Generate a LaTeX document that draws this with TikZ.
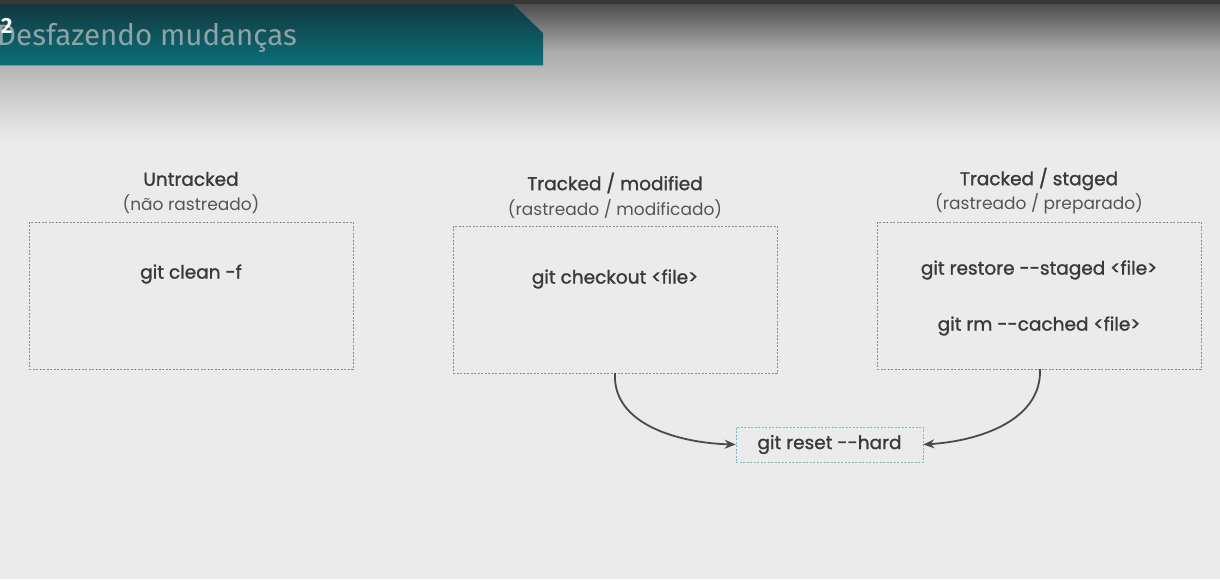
\documentclass[tikz,border=0pt]{standalone}
\usepackage{fontspec}
\setmainfont{Poppins}
\newfontfamily\headfont{Fira Sans}
\newfontfamily\boldish{Poppins}[FakeBold=1.3]
\usetikzlibrary{arrows.meta}
\definecolor{txt}{HTML}{3A3A3A}
\definecolor{subtxt}{HTML}{555555}
\definecolor{boxline}{HTML}{8C8C8C}
\definecolor{tealline}{HTML}{6CBEC6}
\definecolor{arrowc}{HTML}{4A4A4A}
\definecolor{tealtop}{HTML}{123840}
\definecolor{tealbot}{HTML}{0B7079}
\definecolor{headtxt}{HTML}{8FA3A5}
\tikzset{
  x=1pt,y=-1pt,
  statebox/.style={draw=boxline,dashed,dash pattern=on 2pt off 1.5pt,line width=0.7pt,inner sep=0pt,anchor=north west},
  title/.style={text=txt,font=\boldish\fontsize{18.5}{20}\selectfont},
  subtitle/.style={text=subtxt,font=\fontsize{17}{19}\selectfont},
  cmd/.style={text=txt,font=\boldish\fontsize{18.5}{20}\selectfont},
  conn/.style={draw=arrowc,line width=1.8pt,-{Stealth[length=11pt,width=9pt]}}
}
\begin{document}
\begin{tikzpicture}
\useasboundingbox (0,0) rectangle (1220,579);
% background
\fill[black!8] (0,0) rectangle (1220,579);
\shade[top color=black!70,bottom color=black!33] (0,4) rectangle (1220,50.5);
\shade[top color=black!33,bottom color=black!8] (0,50) rectangle (1220,140);
\fill[black!78] (0,0) rectangle (1220,4);
% header
\shade[top color=tealtop,bottom color=tealbot] (0,4) -- (513,4) -- (543,33) -- (543,65) -- (0,65) -- cycle;
\draw[tealline!70!tealbot,line width=0.8pt] (0,65) -- (543,65);
\node[anchor=base west,inner sep=0pt,text=headtxt,font=\headfont\fontsize{29.5}{32}\selectfont] (head) at (-3,45) {Desfazendo mudanças};
\node[anchor=base west,inner sep=0pt,text=white,font=\headfont\bfseries\fontsize{22}{24}\selectfont] (num) at (1,33) {2};
% boxes
\node[statebox,minimum width=324pt,minimum height=147pt] (b1) at (29,222) {};
\node[statebox,minimum width=324pt,minimum height=147pt] (b2) at (453,226) {};
\node[statebox,minimum width=324pt,minimum height=147pt] (b3) at (877,222) {};
% titles
\node[title] (t1) at (191,179) {Untracked};
\node[subtitle] (s1) at (191,204) {(não rastreado)};
\node[title] (t2) at (615,183) {Tracked / modified};
\node[subtitle] (s2) at (615,209) {(rastreado / modificado)};
\node[title] (t3) at (1039,179) {Tracked / staged};
\node[subtitle] (s3) at (1039,204) {(rastreado / preparado)};
% commands
\node[cmd] (c1) at (191,274) {git clean -f};
\node[cmd] (c2) at (615,279) {git checkout <file>};
\node[cmd] (c3a) at (1039,270) {git restore -{}-staged <file>};
\node[cmd] (c3b) at (1039,326) {git rm -{}-cached <file>};
% reset
\node[draw=tealline,dashed,dash pattern=on 2pt off 1.5pt,line width=0.7pt,minimum width=187pt,minimum height=35pt,inner sep=0pt,cmd] (reset) at (829.5,444.5) {git reset -{}-hard};
% connectors
\coordinate (p2) at (615,373);
\coordinate (p3) at (1040,369);
\draw[conn] (p2) .. controls (612,425) and (680,443) .. (reset.west);
\draw[conn] (p3) .. controls (1042,420) and (980,441) .. (reset.east);
\end{tikzpicture}
\end{document}
